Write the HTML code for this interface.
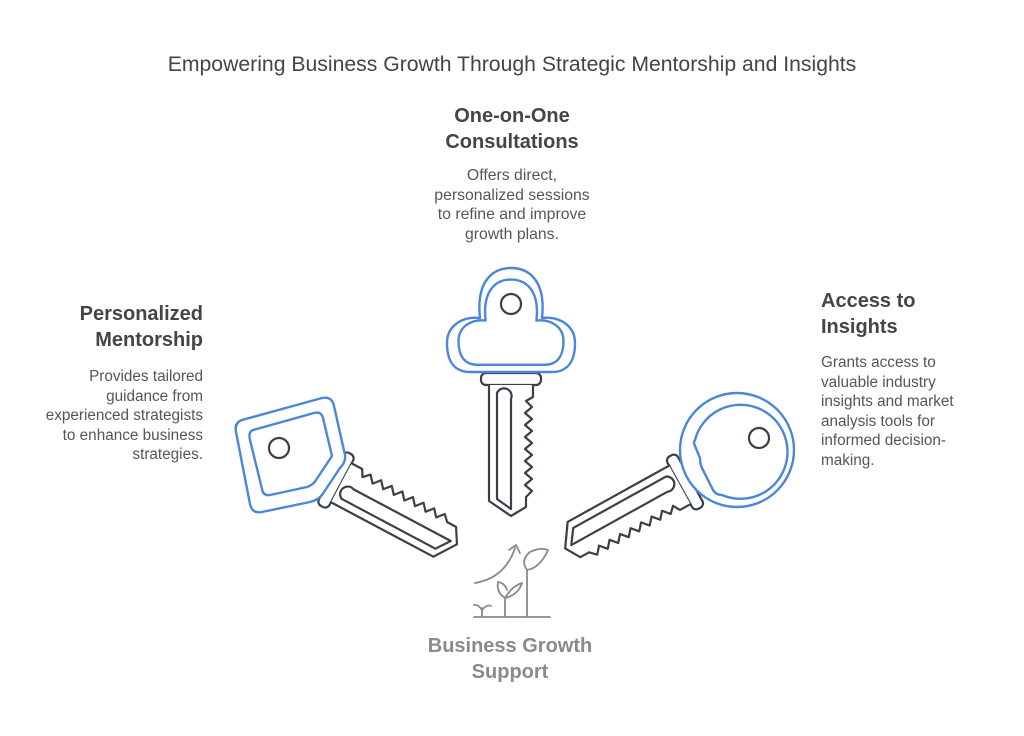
<!DOCTYPE html>
<html><head><meta charset="utf-8"><style>
body{margin:0;background:#fff;width:1024px;height:736px;overflow:hidden;position:relative;font-family:"Liberation Sans",sans-serif}
.t{position:absolute;color:#444}
h2{margin:0;font-size:20px;line-height:26px;font-weight:bold;color:#454545}
p{margin:11px 0 0;font-size:15.3px;line-height:19.5px;color:#555}
</style></head><body>
<div class="t" style="left:0;width:1024px;top:53px;text-align:center;font-size:21.2px;color:#444">Empowering Business Growth Through Strategic Mentorship and Insights</div>
<div class="t" style="left:392px;width:240px;top:103px;text-align:center"><h2>One-on-One<br>Consultations</h2><p style="font-size:15.8px">Offers direct,<br>personalized sessions<br>to refine and improve<br>growth plans.</p></div>
<div class="t" style="left:20px;width:183px;top:301px;text-align:right"><h2>Personalized<br>Mentorship</h2><p style="margin-top:14px">Provides tailored<br>guidance from<br>experienced strategists<br>to enhance business<br>strategies.</p></div>
<div class="t" style="left:821px;width:200px;top:288px;text-align:left"><h2>Access to<br>Insights</h2><p style="margin-top:13px">Grants access to<br>valuable industry<br>insights and market<br>analysis tools for<br>informed decision-<br>making.</p></div>
<div class="t" style="left:400px;width:220px;top:633px;text-align:center"><h2 style="color:#8a8a8a">Business Growth<br>Support</h2></div>
<svg width="1024" height="736" style="position:absolute;left:0;top:0" fill="none" stroke-linejoin="round" stroke-linecap="round">
<defs>
<g id="blade" stroke="#3c3f47" stroke-width="2.2" fill="#fff">
<rect x="-6" y="-30" width="12" height="60" rx="5"/>
<path d="M6,-22 L18,-22 L22,-15 L28,-21 L34,-14 L40,-21 L46,-14 L52,-21 L58,-14 L64,-21 L70,-14 L76,-21 L82,-14 L88,-21 L94,-14 L100,-21 L106,-14 L112,-21 L118,-15 L128,-15 L137,0 L122,22 L6,22"/>
<path d="M14,14 L120,14 L130,0 L20,0 A7,7 0 0 0 14,14 Z"/>
</g>
<path id="cloud" d="M470,372 C452,372 447,358 447,343 C447,326 462,316 480,318 C476,282 492,268 511,268 C530,268 546,282 542,318 C560,316 575,326 575,343 C575,358 570,372 552,372 Z"/>
</defs>
<!-- top key -->
<use href="#blade" transform="translate(511,379) rotate(90)"/>
<g stroke="#4a86db" stroke-width="2.4" fill="#fff">
<use href="#cloud"/>
<use href="#cloud" transform="translate(511,332) scale(0.82) translate(-511,-332)" stroke-width="2.9"/>
</g>
<circle cx="511" cy="304" r="10" stroke="#3c3f47" stroke-width="2.2" fill="#fff"/>
<!-- left key -->
<use href="#blade" transform="translate(336,480) rotate(28)"/>
<g stroke="#4a86db" stroke-width="2.4" fill="#fff">
<path d="M242,420 L322,398 Q332,396 334,406 L345,455 Q346,462 340,468 L322,495 Q318,500 310,502 L262,512 Q252,514 250,504 L236,432 Q234,423 242,420 Z"/>
<path d="M253,430 L314,413 Q321,411 323,418 L332,456 L316,480 Q313,485 307,487 L270,495 Q263,496 262,489 L250,440 Q248,432 253,430 Z"/>
</g>
<circle cx="279" cy="448" r="10" stroke="#3c3f47" stroke-width="2.2" fill="#fff"/>
<!-- right key -->
<use href="#blade" transform="translate(685,482) rotate(151)"/>
<circle cx="737" cy="450" r="57" stroke="#4a86db" stroke-width="2.4" fill="#fff"/>
<path d="M695,440 A47,47 0 1 1 722,495 Q715,495 712,488 L703,470 Q700,465 700,458 L695,446 Q693,442 695,440 Z" stroke="#4a86db" stroke-width="2.4" fill="#fff"/>
<circle cx="759" cy="438" r="10" stroke="#3c3f47" stroke-width="2.2" fill="#fff"/>
<!-- plant icon -->
<g stroke="#8a8a8a" stroke-width="1.8">
<line x1="474" y1="617" x2="550" y2="617"/>
<path d="M475,583 Q505,578 515,548"/><path d="M509,550 L516,545 L520,553"/>
<line x1="527" y1="617" x2="527" y2="570"/>
<path d="M527,570 Q520,560 530,552 Q540,547 548,550 Q540,568 527,570 Z"/>
<line x1="505" y1="617" x2="505" y2="598"/>
<path d="M505,598 Q512,586 522,583 Q518,595 505,598 Z"/>
<path d="M505,598 Q496,592 498,582 Q505,583 507,590"/>
<path d="M482,617 L482,608 M482,610 Q478,604 474,605 M482,610 Q487,604 491,606"/>
</g>
</svg>
</body></html>
